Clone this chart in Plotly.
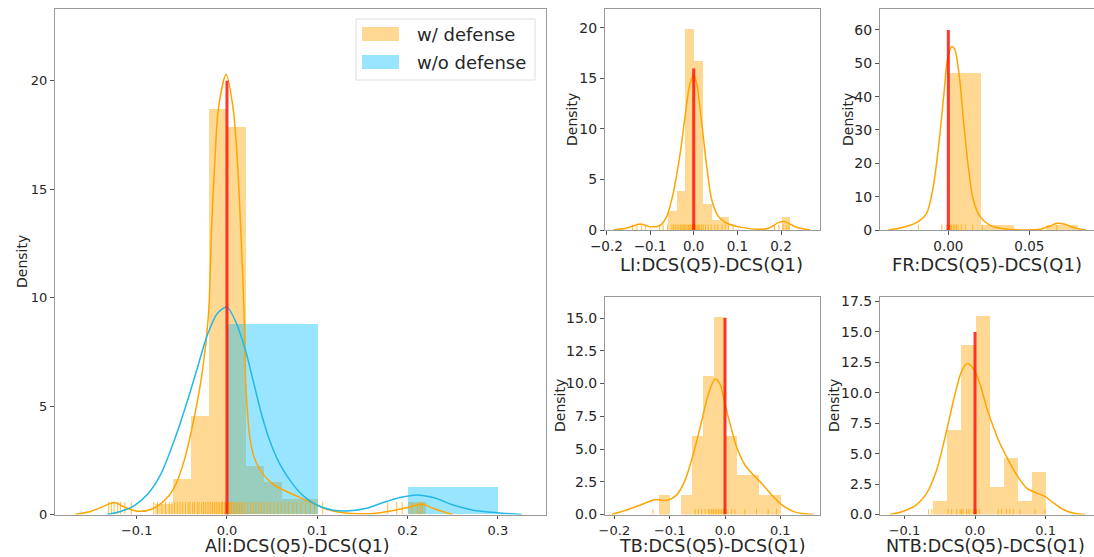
import plotly.graph_objects as go

# ---------------- data ----------------
# Main panel: "All"
all_def_bin_left = [-0.08, -0.06, -0.04, -0.02, 0.0, 0.02, 0.04, 0.06, 0.08, 0.20]
all_def_density = [0.47, 1.62, 4.53, 18.70, 17.83, 2.22, 1.48, 0.72, 0.72, 0.58]
all_def_bin_width = 0.02
all_nodef_bin_left = [0.0, 0.2]
all_nodef_density = [8.78, 1.25]
all_nodef_bin_width = 0.1

all_def_kde_x = [-0.168, -0.151, -0.138, -0.125, -0.112, -0.099, -0.0845, -0.070, -0.0587,
                 -0.0476, -0.0365, -0.0273, -0.0205, -0.017, -0.0133, -0.0096, -0.001,
                 0.007, 0.0114, 0.0151, 0.0188, 0.0211, 0.0255, 0.0292, 0.0329, 0.0402,
                 0.0513, 0.066, 0.081, 0.0956, 0.1104, 0.129, 0.147, 0.166, 0.184, 0.199,
                 0.210, 0.217, 0.228, 0.243, 0.250]
all_def_kde_y = [0.0, 0.14, 0.35, 0.55, 0.31, 0.15, 0.23, 0.61, 1.22,
                 2.45, 4.43, 6.58, 9.2, 13.3, 16.38, 18.67, 20.28,
                 18.67, 16.38, 13.3, 9.5, 5.8, 3.5, 2.75, 2.35, 1.85,
                 1.39, 1.06, 0.78, 0.50, 0.24, 0.08, 0.03, 0.06, 0.18, 0.31,
                 0.44, 0.47, 0.29, 0.08, 0.0]
all_nodef_kde_x = [-0.1325, -0.1177, -0.103, -0.088, -0.0734, -0.0587, -0.044, -0.0329,
                   -0.0218, -0.0107, 0.0, 0.0089, 0.0199, 0.0292, 0.0384, 0.0476, 0.0587,
                   0.0716, 0.0845, 0.0993, 0.1177, 0.136, 0.1547, 0.1731, 0.1916, 0.2101,
                   0.2285, 0.2506, 0.2728, 0.2986, 0.3265]
all_nodef_kde_y = [0.0, 0.14, 0.40, 0.93, 1.85, 3.38, 5.21, 6.74,
                   8.27, 9.27, 9.56, 8.96, 7.66, 6.13, 4.60, 3.38, 2.31,
                   1.47, 0.86, 0.44, 0.20, 0.17, 0.29, 0.55, 0.78, 0.90,
                   0.78, 0.44, 0.20, 0.08, 0.0]
all_def_rug = [-0.131, -0.128, -0.125, -0.121, -0.118, -0.113, -0.106, -0.081, -0.077, -0.072,
               -0.068, -0.064, -0.061, -0.058, -0.055, -0.052, -0.049, -0.046, -0.043, -0.041,
               -0.038, -0.036, -0.033, -0.031, -0.028, -0.026, -0.024, -0.022, -0.020, -0.018,
               -0.016, -0.014, -0.012, -0.011, -0.009, -0.008, -0.006, -0.005, -0.003, -0.002,
               -0.001, 0.0, 0.001, 0.002, 0.003, 0.004, 0.005, 0.007, 0.008, 0.010, 0.012,
               0.014, 0.016, 0.018, 0.020, 0.023, 0.026, 0.029, 0.032, 0.035, 0.038, 0.041,
               0.045, 0.048, 0.052, 0.056, 0.060, 0.064, 0.068, 0.073, 0.077, 0.082, 0.087,
               0.092, 0.097, 0.106, 0.178, 0.188, 0.194, 0.205, 0.211, 0.214, 0.216]
all_ref_top = 20

# LI panel
li_bin_left = [-0.06, -0.04, -0.02, 0.0, 0.02, 0.04, 0.06, 0.20]
li_density = [1.88, 3.86, 19.87, 16.67, 2.57, 0.99, 1.22, 1.25]
li_bin_width = 0.02
li_kde_x = [-0.184, -0.150, -0.123, -0.100, -0.077, -0.062, -0.047, -0.031, -0.020, -0.0085,
            0.0, 0.0069, 0.0183, 0.0298, 0.0412, 0.0565, 0.079, 0.110, 0.148, 0.171, 0.194,
            0.209, 0.232, 0.266]
li_kde_y = [0.0, 0.23, 0.59, 0.33, 0.46, 1.32, 3.63, 7.6, 11.2, 14.5,
            15.35, 14.5, 10.6, 6.3, 3.0, 1.35, 0.62, 0.26, 0.07, 0.17, 0.73,
            0.83, 0.33, 0.0]
li_rug = [-0.14, -0.13, -0.12, -0.11, -0.078, -0.07, -0.06, -0.05, -0.046, -0.042, -0.038,
          -0.034, -0.03, -0.027, -0.024, -0.021, -0.018, -0.015, -0.012, -0.009, -0.007,
          -0.005, -0.003, -0.001, 0.001, 0.003, 0.005, 0.008, 0.011, 0.014, 0.018, 0.022,
          0.027, 0.033, 0.04, 0.048, 0.055, 0.065, 0.072, 0.08, 0.09, 0.185, 0.195, 0.205,
          0.212, 0.218]
li_ref_top = 16

# FR panel
fr_bin_left = [0.0, 0.02, 0.06]
fr_density = [47.0, 1.4, 1.4]
fr_bin_width = 0.02
fr_kde_x = [-0.037, -0.0278, -0.0185, -0.0134, -0.0093, -0.0056, -0.0027, -0.0006, 0.0021,
            0.0041, 0.0068, 0.0093, 0.0123, 0.0154, 0.0196, 0.0257, 0.034, 0.0484, 0.0566,
            0.0628, 0.0669, 0.072, 0.0782, 0.085]
fr_kde_y = [0.0, 0.8, 2.5, 5.0, 13.0, 27.0, 41.0, 51.0, 55.0,
            54.0, 46.0, 33.0, 19.0, 9.0, 4.0, 1.4, 0.4, 0.0, 0.2,
            1.2, 2.0, 1.7, 0.6, 0.0]
fr_rug = [-0.0185, -0.004, -0.001, 0.0, 0.0005, 0.001, 0.0015, 0.002, 0.003, 0.004, 0.005,
          0.006, 0.008, 0.0105, 0.015, 0.021, 0.067]
fr_ref_top = 60

# TB panel
tb_bin_left = [-0.12, -0.08, -0.06, -0.04, -0.02, 0.0, 0.02, 0.04, 0.06, 0.08]
tb_density = [1.51, 1.51, 6.05, 10.63, 15.12, 6.05, 3.02, 3.02, 1.51, 1.51]
tb_bin_width = 0.02
tb_kde_x = [-0.205, -0.175, -0.151, -0.127, -0.105, -0.087, -0.072, -0.057, -0.042, -0.030,
            -0.018, -0.009, 0.0, 0.009, 0.021, 0.036, 0.054, 0.066, 0.084, 0.102, 0.127, 0.160]
tb_kde_y = [0.0, 0.38, 0.76, 1.13, 1.08, 1.51, 2.64, 4.66, 7.18, 9.2,
            10.34, 9.96, 8.45, 6.94, 5.17, 3.78, 2.9, 2.39, 1.51, 0.76, 0.18, 0.0]
tb_rug = [-0.13, -0.054, -0.048, -0.042, -0.036, -0.03, -0.027, -0.024, -0.021, -0.018,
          -0.015, -0.012, -0.009, -0.006, -0.003, 0.003, 0.012, 0.018, 0.036, 0.057, 0.078,
          0.093]
tb_ref_top = 15

# NTB panel
ntb_bin_left = [-0.06, -0.04, -0.02, 0.0, 0.02, 0.04, 0.06, 0.08]
ntb_density = [1.17, 7.0, 13.97, 16.33, 2.31, 4.67, 1.17, 3.50]
ntb_bin_width = 0.02
ntb_kde_x = [-0.1204, -0.1016, -0.0826, -0.0684, -0.0543, -0.0401, -0.0283, -0.0188, -0.0109,
             -0.0024, 0.0071, 0.0165, 0.026, 0.0354, 0.0472, 0.059, 0.0732, 0.0874, 0.0992,
             0.111, 0.125, 0.1416, 0.156]
ntb_kde_y = [0.0, 0.27, 0.81, 1.76, 3.66, 6.92, 9.9, 11.8, 12.4,
             12.0, 10.7, 8.8, 7.2, 5.83, 4.48, 3.26, 2.17, 1.76, 1.49,
             0.95, 0.41, 0.08, 0.0]
ntb_rug = [-0.066, -0.061, -0.038, -0.033, -0.026, -0.021, -0.019, -0.017, -0.012, -0.0095,
           -0.007, -0.0024, 0.0, 0.0024, 0.0061, 0.033, 0.0378, 0.0448, 0.0495, 0.0543,
           0.0637, 0.085, 0.099]
ntb_ref_top = 15

legend_labels = ["w/ defense", "w/o defense"]
x_titles = ["All:DCS(Q5)-DCS(Q1)", "LI:DCS(Q5)-DCS(Q1)", "FR:DCS(Q5)-DCS(Q1)",
            "TB:DCS(Q5)-DCS(Q1)", "NTB:DCS(Q5)-DCS(Q1)"]

# ---------------- styling / layout ----------------
W, H = 1094, 557
FONT = "DejaVu Sans"
ORANGE = "#FFA500"
BLUE = "#00BFFF"
ORANGE_FILL = "rgba(255,165,0,0.42)"
BLUE_FILL = "rgba(0,191,255,0.40)"
RED = "rgba(255,20,10,0.85)"
BOTTOM = 514.5   # pixel row of the bottom axes


def px(x0, x1, y0, y1):
    """pixel box -> paper domain"""
    return [x0 / W, x1 / W], [1 - y1 / H, 1 - y0 / H]


panels = {
    # name: (axis suffix, pixel box, x range, y range, x ticks, y ticks, x fmt, y fmt,
    #        y tick size, x tick size)
    "all": ("", (54.5, 546, 9.3, BOTTOM), [-0.191, 0.3533], [0, 23.29],
            [-0.1, 0.0, 0.1, 0.2, 0.3], [0, 5, 10, 15, 20], ".1f", "d", 13, 13),
    "li": ("2", (604.5, 820, 9.3, 230), [-0.2044, 0.2893], [0, 21.85],
           [-0.2, -0.1, 0.0, 0.1, 0.2], [0, 5, 10, 15, 20], ".1f", "d", 14, 13.5),
    "fr": ("3", (879.5, 1094, 9.3, 230), [-0.0425, 0.0899], [0, 66.2],
           [0.0, 0.05], [0, 10, 20, 30, 40, 50, 60], ".2f", "d", 14, 13.5),
    "tb": ("4", (604.5, 820, 296.7, BOTTOM), [-0.2179, 0.1718], [0, 16.63],
           [-0.2, -0.1, 0.0, 0.1], [0, 2.5, 5, 7.5, 10, 12.5, 15], ".1f", ".1f", 14, 13),
    "ntb": ("5", (879.5, 1094, 296.7, BOTTOM), [-0.1353, 0.1686], [0, 17.9],
            [-0.1, 0.0, 0.1], [0, 2.5, 5, 7.5, 10, 12.5, 15, 17.5], ".1f", ".1f", 14, 13),
}

fig = go.Figure()
layout = dict(
    width=W, height=H, margin=dict(l=0, r=0, t=0, b=0),
    paper_bgcolor="white", plot_bgcolor="white", showlegend=False,
    barmode="overlay", bargap=0, font=dict(family=FONT, color="#262626"),
)

for name, (sfx, box, xr, yr, xt, yt, xf, yf, ysz, xsz) in panels.items():
    xd, yd = px(*box)
    common = dict(showline=True, linecolor="#9a9a9a", linewidth=1, mirror=True,
                  ticks="outside", ticklen=3.5, tickwidth=1, tickcolor="#555555",
                  showgrid=False, zeroline=False, automargin=False)
    layout["xaxis" + sfx] = dict(common, domain=xd, range=xr, tickmode="array", tickvals=xt,
                                 tickformat=xf, anchor="y" + sfx,
                                 tickfont=dict(family=FONT, size=xsz, color="#262626"))
    layout["yaxis" + sfx] = dict(common, domain=yd, range=yr, tickmode="array", tickvals=yt,
                                 tickformat=yf, anchor="x" + sfx,
                                 tickfont=dict(family=FONT, size=ysz, color="#262626"))


def axes(sfx):
    return dict(xaxis="x" + sfx, yaxis="y" + sfx)


def add_hist(sfx, lefts, dens, width, fill):
    fig.add_trace(go.Bar(x=[l + width / 2 for l in lefts], y=dens, width=[width] * len(lefts),
                         marker=dict(color=fill, line=dict(width=0)),
                         hoverinfo="x+y", **axes(sfx)))


def add_kde(sfx, xs, ys, color):
    fig.add_trace(go.Scatter(x=xs, y=ys, mode="lines",
                             line=dict(color=color, width=1.5, shape="spline", smoothing=0.8),
                             hoverinfo="skip", **axes(sfx)))


def add_rug(sfx, vals, ytop, color):
    h = 0.025 * ytop
    xs, ys = [], []
    for v in vals:
        xs += [v, v, None]
        ys += [0, h, None]
    fig.add_trace(go.Scatter(x=xs, y=ys, mode="lines", line=dict(color=color, width=1),
                             opacity=0.75, hoverinfo="skip", **axes(sfx)))


def add_ref(sfx, top):
    fig.add_trace(go.Scatter(x=[0, 0], y=[0, top], mode="lines",
                             line=dict(color=RED, width=3), hoverinfo="skip", **axes(sfx)))


# main panel
add_hist("", all_def_bin_left, all_def_density, all_def_bin_width, ORANGE_FILL)
add_kde("", all_def_kde_x, all_def_kde_y, ORANGE)
add_rug("", all_def_rug, panels["all"][3][1], ORANGE)
add_hist("", all_nodef_bin_left, all_nodef_density, all_nodef_bin_width, BLUE_FILL)
add_kde("", all_nodef_kde_x, all_nodef_kde_y, "#22B8E6")
add_ref("", all_ref_top)

for key, lefts, dens, bw, kx, ky, rug, top in [
    ("li", li_bin_left, li_density, li_bin_width, li_kde_x, li_kde_y, li_rug, li_ref_top),
    ("fr", fr_bin_left, fr_density, fr_bin_width, fr_kde_x, fr_kde_y, fr_rug, fr_ref_top),
    ("tb", tb_bin_left, tb_density, tb_bin_width, tb_kde_x, tb_kde_y, tb_rug, tb_ref_top),
    ("ntb", ntb_bin_left, ntb_density, ntb_bin_width, ntb_kde_x, ntb_kde_y, ntb_rug, ntb_ref_top),
]:
    sfx = panels[key][0]
    add_hist(sfx, lefts, dens, bw, ORANGE_FILL)
    add_kde(sfx, kx, ky, ORANGE)
    add_rug(sfx, rug, panels[key][3][1], ORANGE)
    add_ref(sfx, top)

# axis titles (as annotations placed in pixel space)
annotations = []
# top-row titles are centred at a pixel row; bottom-row titles sit on the figure's bottom edge
xtitle_pos = [(298, None), (711, 264), (987, 264), (712, None), (985, None)]
for text, (cx, cy) in zip(x_titles, xtitle_pos):
    if cy is None:
        annotations.append(dict(text=text, x=cx / W, y=0, xref="paper", yref="paper",
                                xanchor="center", yanchor="bottom", showarrow=False, borderpad=0,
                                font=dict(family=FONT, size=17.5, color="#262626")))
    else:
        annotations.append(dict(text=text, x=cx / W, y=1 - cy / H, xref="paper", yref="paper",
                                xanchor="center", yanchor="middle", showarrow=False,
                                font=dict(family=FONT, size=18, color="#262626")))
ytitle_pos = [(22, 262), (572, 120), (848, 120), (560, 406), (834, 406)]
for (cx, cy) in ytitle_pos:
    annotations.append(dict(text="Density", x=cx / W, y=1 - cy / H, xref="paper", yref="paper",
                            xanchor="center", yanchor="middle", showarrow=False, textangle=-90,
                            font=dict(family=FONT, size=14, color="#262626")))

# legend (drawn box with swatches)
shapes = [dict(type="rect", xref="paper", yref="paper", x0=356 / W, x1=535 / W,
               y0=1 - 80 / H, y1=1 - 19 / H, fillcolor="rgba(255,255,255,0.85)",
               line=dict(color="#dddddd", width=1), layer="above")]
for i, (lab, fill) in enumerate(zip(legend_labels, [ORANGE_FILL, BLUE_FILL])):
    cy = 34 + i * 28
    shapes.append(dict(type="rect", xref="paper", yref="paper", x0=362 / W, x1=399 / W,
                       y0=1 - (cy + 7) / H, y1=1 - (cy - 7) / H, fillcolor=fill,
                       line=dict(width=0), layer="above"))
    annotations.append(dict(text=lab, x=415 / W, y=1 - cy / H, xref="paper", yref="paper",
                            xanchor="left", yanchor="middle", showarrow=False,
                            font=dict(family=FONT, size=18, color="#262626")))

layout["annotations"] = annotations
layout["shapes"] = shapes
fig.update_layout(**layout)
fig.write_html("out.html")
